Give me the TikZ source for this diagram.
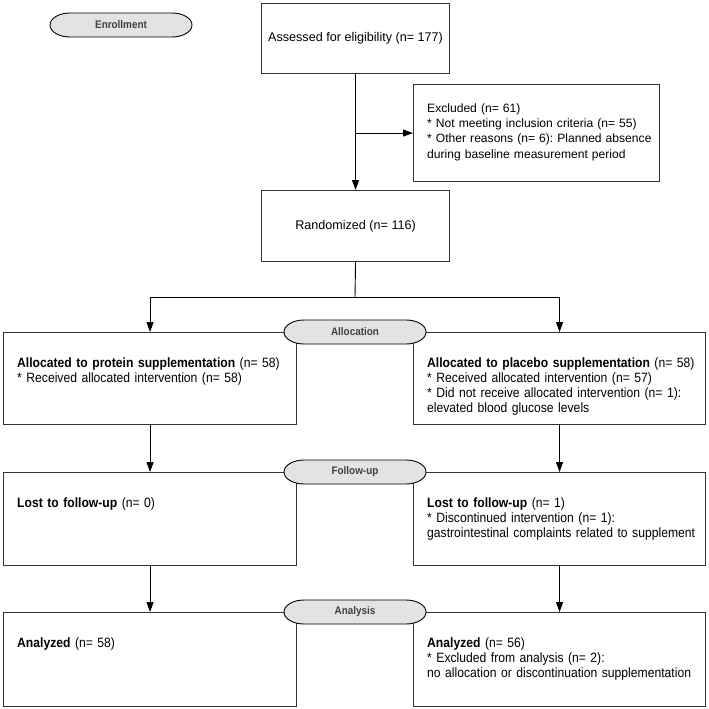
\documentclass[tikz,border=0pt]{standalone}
\usepackage{fontspec}
\setmainfont{Liberation Sans}
\newfontfamily\narrowfont[FakeStretch=0.9]{Liberation Sans}
\usetikzlibrary{arrows.meta,calc}
\frenchspacing
\newcommand\uppertext{\fontsize{12.6}{15.2}\selectfont\frenchspacing}
\newcommand\excltext{\fontsize{12.1}{15.2}\selectfont\frenchspacing}
\newcommand\lowertext{\narrowfont\fontsize{13.5}{15}\selectfont\frenchspacing}
\newcommand\phasetext{\narrowfont\fontsize{11}{12}\selectfont\bfseries}
\definecolor{phasegray}{HTML}{E3E3E3}
\definecolor{boxline}{HTML}{333333}
\newcommand\phaseat[1]{%
  \draw[phaseline] ($(#1)+(-51,-12)$) -- ($(#1)+(51,-12)$)
    arc[start angle=90,end angle=-90,x radius=20pt,y radius=12pt]
    -- ($(#1)+(-51,12)$)
    arc[start angle=270,end angle=90,x radius=20pt,y radius=12pt] -- cycle;}
\tikzset{
  box/.style={draw=boxline, line width=1.1pt, rectangle, anchor=north west, inner sep=0pt},
  txt/.style={anchor=base west, inner sep=0pt, text width=#1, align=left},
  txt/.default=285pt,
  arr/.style={draw=black, line width=0.9pt, -{Triangle[length=10pt,width=7pt]}},
  ln/.style={draw=black, line width=0.9pt},
  phaseline/.style={draw=black, line width=0.9pt, fill=phasegray},
  phaselabel/.style={font=\phasetext, text=black!75, inner sep=0pt},
}
\begin{document}
\begin{tikzpicture}[x=1pt,y=-1pt]
\useasboundingbox (0,0) rectangle (709,709);
\fill[white] (0,0) rectangle (709,709);

% upper part
\node[box, minimum width=188pt, minimum height=70pt, font=\uppertext] (assess) at (261,3) {Assessed for eligibility (n= 177)};
\node[box, minimum width=246pt, minimum height=97pt] (excl) at (413,84) {};
\node[txt, font=\excltext] (excltext) at ($(excl.north west)+(14,28.5)$) {Excluded (n= 61)\\{}* Not meeting inclusion criteria (n= 55)\\{}* Other reasons (n= 6): Planned absence\\{}during baseline measurement period};
\node[box, minimum width=188pt, minimum height=71pt, font=\uppertext] (rand) at (261,190) {Randomized (n= 116)};

% lower boxes
\node[box, minimum width=293pt, minimum height=92pt] (alL) at (3,332) {};
\node[box, minimum width=292pt, minimum height=92pt] (alR) at (413,332) {};
\node[box, minimum width=293pt, minimum height=93pt] (fuL) at (3,472) {};
\node[box, minimum width=292pt, minimum height=93pt] (fuR) at (413,472) {};
\node[box, minimum width=293pt, minimum height=94pt] (anL) at (3,612) {};
\node[box, minimum width=292pt, minimum height=94pt] (anR) at (413,612) {};

\node[txt, font=\lowertext] (alLt) at ($(alL.north west)+(14,35)$) {\textbf{Allocated to protein supplementation} (n= 58)\\{}* Received allocated intervention (n= 58)};
\node[txt, font=\lowertext] (alRt) at ($(alR.north west)+(14,35)$) {\textbf{Allocated to placebo supplementation} (n= 58)\\{}* Received allocated intervention (n= 57)\\{}* Did not receive allocated intervention (n= 1):\\{}elevated blood glucose levels};
\node[txt, font=\lowertext] (fuLt) at ($(fuL.north west)+(14,35)$) {\textbf{Lost to follow-up} (n= 0)};
\node[txt, font=\lowertext] (fuRt) at ($(fuR.north west)+(14,35)$) {\textbf{Lost to follow-up} (n= 1)\\{}* Discontinued intervention (n= 1):\\{}gastrointestinal complaints related to supplement};
\node[txt, font=\lowertext] (anLt) at ($(anL.north west)+(14,35)$) {\textbf{Analyzed} (n= 58)};
\node[txt, font=\lowertext] (anRt) at ($(anR.north west)+(14,35)$) {\textbf{Analyzed} (n= 56)\\{}* Excluded from analysis (n= 2):\\{}no allocation or discontinuation supplementation};

% connectors
\coordinate (jexcl) at (assess.south |- excl.west);
\draw[arr] (assess.south) -- (rand.north);
\draw[arr] (jexcl) -- (excl.west);
\coordinate (split) at (355,297);
\draw[ln] (rand.south) -- (split);
\draw[arr] (split) -| (alL.north);
\draw[arr] (split) -| (alR.north);
\draw[arr] (alL.south) -- (fuL.north);
\draw[arr] (alR.south) -- (fuR.north);
\draw[arr] (fuL.south) -- (anL.north);
\draw[arr] (fuR.south) -- (anR.north);

% phase labels
\coordinate (pEn) at (121,25);
\coordinate (pAl) at (355,332);
\coordinate (pFu) at (355,472);
\coordinate (pAn) at (355,612);
\phaseat{pEn}
\phaseat{pAl}
\phaseat{pFu}
\phaseat{pAn}
\node[phaselabel] (lEn) at (pEn) {Enrollment};
\node[phaselabel] (lAl) at (pAl) {Allocation};
\node[phaselabel] (lFu) at (pFu) {Follow-up};
\node[phaselabel] (lAn) at (pAn) {Analysis};
\end{tikzpicture}
\end{document}
